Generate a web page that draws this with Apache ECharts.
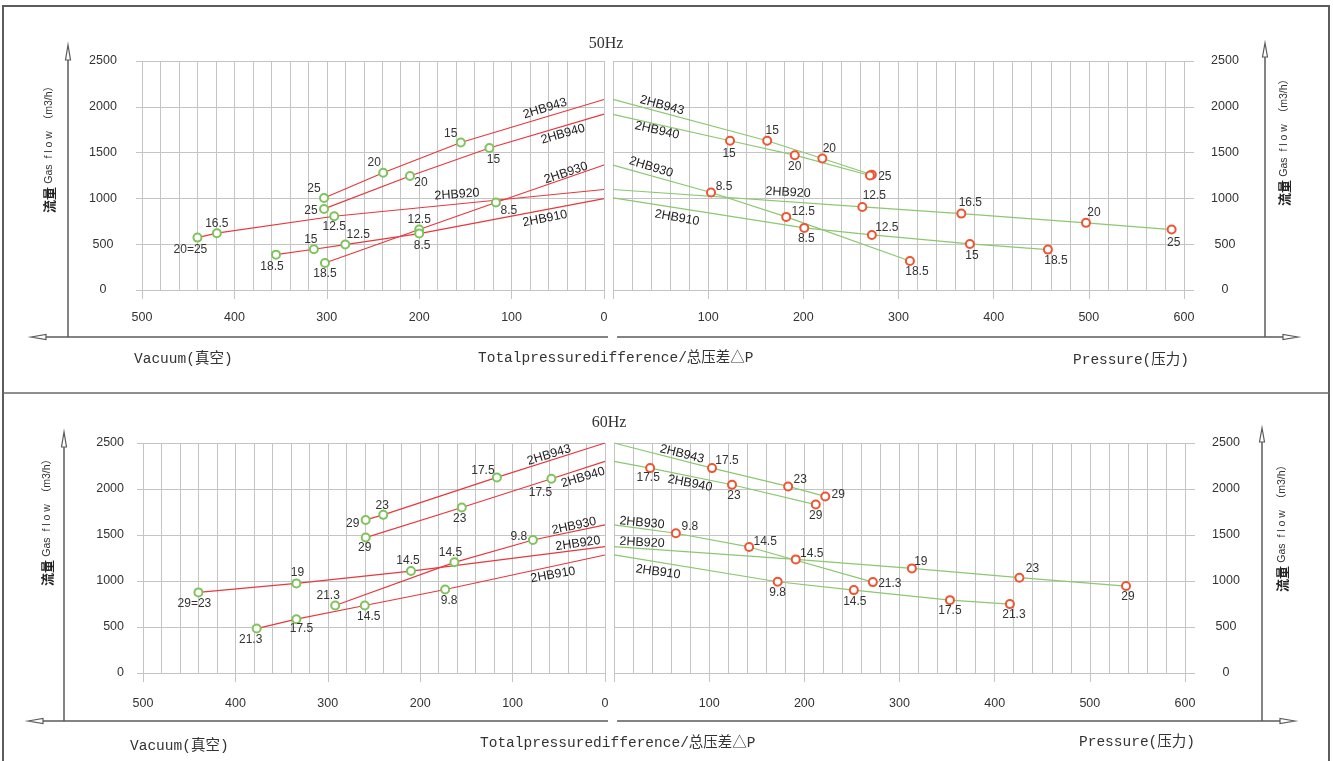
<!DOCTYPE html>
<html><head><meta charset="utf-8">
<script src="https://cdn.jsdelivr.net/npm/echarts@6/dist/echarts.min.js"></script>
<style>html,body{margin:0;padding:0;background:#fff}#c{width:1333px;height:761px}</style>
</head><body><div id="c"></div>
<script>
// ================= DATA =================
const models = ['2HB943', '2HB940', '2HB930', '2HB920', '2HB910'];
const flowTicks = [0, 500, 1000, 1500, 2000, 2500];      // m3/h
const vacuumTicks = [0, 100, 200, 300, 400, 500];        // vacuum side
const pressureTicks = [0, 100, 200, 300, 400, 500, 600]; // pressure side
const minorStep = 20;

// [pressure difference, gas flow, power label]
// 50 Hz – vacuum side
const V50_2HB943 = [[0, 2080, ''], [155, 1610, '15'], [239, 1280, '20'], [303, 1005, '25']];
const V50_2HB940 = [[0, 1920, ''], [124, 1550, '15'], [210, 1245, '20'], [303, 885, '25']];
const V50_2HB930 = [[0, 1365, ''], [117, 955, '8.5'], [200, 660, '12.5'], [302, 295, '18.5']];
const V50_2HB920 = [[0, 1097, ''], [292, 805, '12.5'], [419, 620, '16.5'], [440, 572, '20=25']];
const V50_2HB910 = [[0, 998, ''], [200, 616, '8.5'], [280, 496, '12.5'], [314, 445, '15'], [355, 386, '18.5']];
// 50 Hz – pressure side
const P50_2HB943 = [[0, 2081, ''], [162, 1629, '15'], [220, 1436, '20'], [272, 1258, '25']];
const P50_2HB940 = [[0, 1917, ''], [123, 1629, '15'], [191, 1472, '20'], [270, 1250, '25']];
const P50_2HB930 = [[0, 1363, ''], [103, 1064, '8.5'], [182, 798, '12.5'], [312, 317, '18.5']];
const P50_2HB920 = [[0, 1097, ''], [262, 907, '12.5'], [366, 834, '16.5'], [497, 733, '20'], [587, 660, '25']];
const P50_2HB910 = [[0, 1006, ''], [201, 678, '8.5'], [272, 601, '12.5'], [375, 503, '15'], [457, 441, '18.5']];
// 60 Hz – vacuum side
const V60_2HB943 = [[0, 2500, ''], [117, 2126, '17.5'], [240, 1719, '23'], [259, 1664, '29']];
const V60_2HB940 = [[0, 2300, ''], [58, 2111, '17.5'], [155, 1799, '23'], [259, 1472, '29']];
const V60_2HB930 = [[0, 1610, ''], [78, 1446, '9.8'], [163, 1203, '14.5'], [292, 734, '21.3']];
const V60_2HB920 = [[0, 1374, ''], [210, 1108, '14.5'], [334, 974, '19'], [440, 876, '29=23']];
const V60_2HB910 = [[0, 1283, ''], [173, 908, '9.8'], [260, 734, '14.5'], [334, 585, '17.5'], [377, 483, '21.3']];
// 60 Hz – pressure side
const P60_2HB943 = [[0, 2500, ''], [103, 2227, '17.5'], [183, 2028, '23'], [222, 1919, '29']];
const P60_2HB940 = [[0, 2300, ''], [38, 2227, '17.5'], [124, 2046, '23'], [212, 1831, '29']];
const P60_2HB930 = [[0, 1610, ''], [65, 1519, '9.8'], [142, 1370, '14.5'], [272, 988, '21.3']];
const P60_2HB920 = [[0, 1374, ''], [191, 1235, '14.5'], [313, 1137, '19'], [426, 1036, '23'], [538, 945, '29']];
const P60_2HB910 = [[0, 1283, ''], [172, 992, '9.8'], [252, 901, '14.5'], [353, 792, '17.5'], [416, 749, '21.3']];

// ================= STYLE / LAYOUT =================
const GRID_COLOR = '#c4c4c4';
const AXIS_COLOR = '#5a5a5a';
const TEXT_COLOR = '#333';
const RED = '#e8383d';
const GREEN_MK = '#7fc35c';
const GREEN_LN = '#8cc870';
const ORANGE_MK = '#ee5533';
const SANS = 'Liberation Sans, Arial, sans-serif';
const MONO = "'Liberation Mono', 'Noto Sans CJK SC', monospace";

// label offsets (px) of each point's power label, null = no label
const OFF_V50 = [
  [null, [-10, -9], [-9, -10], [-10, -9]],
  [null, [4, 12], [11, 7], [-13, 2]],
  [null, [13, 8], [0, -10], [0, 11]],
  [null, [0, 10], [0, -10], [-7, 12]],
  [null, [3, 12], [13, -10], [-3, -10], [-4, 12]]
];
const OFF_P50 = [
  [null, [5, -10], [7, -10], [13, 2]],
  [null, [-1, 13], [0, 12], null],
  [null, [13, -6], [17, -5], [7, 11]],
  [null, [12, -11], [9, -11], [8, -10], [2, 13]],
  [null, [2, 11], [15, -7], [2, 12], [8, 11]]
];
const OFF_V60 = [
  [null, [-14, -7], [-1, -9], [-13, 4]],
  [null, [-11, 14], [-2, 11], [-1, 10]],
  [null, [-14, -3], [-4, -10], [-7, -10]],
  [null, [-3, -10], [1, -11], [-4, 11]],
  [null, [4, 11], [4, 11], [5, 10], [-6, 11]]
];
const OFF_P60 = [
  [null, [15, -7], [12, -7], [13, -2]],
  [null, [-2, 10], [2, 11], [0, 11]],
  [null, [14, -7], [16, -5], [17, 2]],
  [null, [16, -6], [9, -7], [13, -9], [2, 11]],
  [null, [0, 11], [1, 12], [0, 11], [4, 11]]
];
// model name label: [dx, dy from curve start (px), rotation deg]
const NAME_V50 = [[-59, 9, 17], [-41, 20, 16], [-38, 8, 19], [-147, 5, 4], [-59, 20, 11]];
const NAME_P50 = [[49, 6, -15], [44, 16, -13], [38, 2, -17], [175, 3, -3], [64, 20, -10]];
const NAME_V60 = [[-56, 12, 17], [-22, 16, 17], [-31, 1, 12], [-27, -3, 8], [-52, 20, 10]];
const NAME_P60 = [[68, 11, -14], [76, 22, -11], [28, -2, -5], [28, -4, -3], [44, 17, -8]];

const panels = [
  { data: [V50_2HB943, V50_2HB940, V50_2HB930, V50_2HB920, V50_2HB910], off: OFF_V50, names: NAME_V50,
    ticks: vacuumTicks, inverse: true, line: RED, mk: GREEN_MK,
    A: { left: 142, top: 61, width: 462, height: 229 }, B: { left: 136, top: 61, width: 468, height: 229 },
    yPos: 'left', yAlign: 'center', yMargin: 33, xMargin: 21, hideZero: false },
  { data: [P50_2HB943, P50_2HB940, P50_2HB930, P50_2HB920, P50_2HB910], off: OFF_P50, names: NAME_P50,
    ticks: pressureTicks, inverse: false, line: GREEN_LN, mk: ORANGE_MK,
    A: { left: 613, top: 61, width: 571, height: 229 }, B: { left: 613, top: 61, width: 581, height: 229 },
    yPos: 'right', yAlign: 'center', yMargin: 31, xMargin: 21, hideZero: true },
  { data: [V60_2HB943, V60_2HB940, V60_2HB930, V60_2HB920, V60_2HB910], off: OFF_V60, names: NAME_V60,
    ticks: vacuumTicks, inverse: true, line: RED, mk: GREEN_MK,
    A: { left: 143, top: 443, width: 462, height: 230 }, B: { left: 137, top: 443, width: 468, height: 230 },
    yPos: 'left', yAlign: 'right', yMargin: 13, xMargin: 24, hideZero: false },
  { data: [P60_2HB943, P60_2HB940, P60_2HB930, P60_2HB920, P60_2HB910], off: OFF_P60, names: NAME_P60,
    ticks: pressureTicks, inverse: false, line: GREEN_LN, mk: ORANGE_MK,
    A: { left: 614, top: 443, width: 571, height: 230 }, B: { left: 614, top: 443, width: 581, height: 230 },
    yPos: 'right', yAlign: 'center', yMargin: 31, xMargin: 24, hideZero: true }
];

// ================= BUILD =================
const grid = [], xAxis = [], yAxis = [], series = [];
const yMin = flowTicks[0], yMax = flowTicks[flowTicks.length - 1], yStep = flowTicks[1] - flowTicks[0];

panels.forEach((p, i) => {
  const xMax = p.ticks[p.ticks.length - 1];
  const xStep = p.ticks[1] - p.ticks[0];
  grid.push(Object.assign({ containLabel: false }, p.A));
  grid.push(Object.assign({ containLabel: false }, p.B));
  // fine vertical grid
  xAxis.push({ type: 'value', gridIndex: 2 * i, min: 0, max: xMax, interval: minorStep, inverse: p.inverse, position: 'bottom',
    axisLine: { show: false, onZero: false }, axisTick: { show: false }, axisLabel: { show: false },
    splitLine: { show: true, lineStyle: { color: GRID_COLOR, width: 1 } } });
  // major ticks & labels
  xAxis.push({ type: 'value', gridIndex: 2 * i, min: 0, max: xMax, interval: xStep, inverse: p.inverse, position: 'bottom',
    axisLine: { show: false, onZero: false },
    axisTick: { show: true, length: 9, lineStyle: { color: GRID_COLOR, width: 1 } },
    axisLabel: { show: true, margin: p.xMargin, color: TEXT_COLOR, fontSize: 12.5, fontFamily: SANS,
      formatter: v => (p.hideZero && v === 0) ? '' : String(v) },
    splitLine: { show: false } });
  // hidden x for wide horizontal grid
  xAxis.push({ type: 'value', gridIndex: 2 * i + 1, min: 0, max: 1, show: false });
  yAxis.push({ type: 'value', gridIndex: 2 * i, min: yMin, max: yMax, interval: yStep, show: false });
  yAxis.push({ type: 'value', gridIndex: 2 * i + 1, min: yMin, max: yMax, interval: yStep, position: p.yPos,
    axisLine: { show: false, onZero: false }, axisTick: { show: false },
    axisLabel: { show: true, margin: p.yMargin, align: p.yAlign, color: TEXT_COLOR, fontSize: 12.5, fontFamily: SANS,
      formatter: v => String(v) },
    splitLine: { show: true, lineStyle: { color: GRID_COLOR, width: 1 } } });

  p.data.forEach((arr, k) => {
    series.push({
      type: 'line', name: models[k], xAxisIndex: 3 * i, yAxisIndex: 2 * i,
      symbol: 'emptyCircle', symbolSize: 8, showAllSymbol: true,
      lineStyle: { color: p.line, width: 1.2 },
      itemStyle: { color: p.mk, borderWidth: 1.2 },
      emphasis: { disabled: true }, z: 3,
      data: arr.map((d, j) => {
        const item = { value: [d[0], d[1]] };
        if (j === 0) item.symbol = 'none';
        const o = p.off[k][j];
        item.label = o ? { show: true, position: 'inside', offset: o, formatter: d[2], color: TEXT_COLOR,
          fontSize: 12, fontFamily: SANS } : { show: false };
        return item;
      })
    });
  });
});

const chart = echarts.init(document.getElementById('c'), null, { renderer: 'canvas' });
chart.setOption({ animation: false, backgroundColor: '#fff', grid, xAxis, yAxis, series });

// ================= DECORATION =================
const g = [];
function ln(x1, y1, x2, y2, w, c) { g.push({ type: 'line', silent: true, z: 1, shape: { x1, y1, x2, y2 }, style: { stroke: c || AXIS_COLOR, lineWidth: w || 1.5 } }); }
function tri(pts) { g.push({ type: 'polygon', silent: true, z: 2, shape: { points: pts }, style: { fill: '#fff', stroke: AXIS_COLOR, lineWidth: 1.2 } }); }
function txt(x, y, text, font, align, extra) {
  g.push(Object.assign({ type: 'text', silent: true, z: 5, x, y,
    style: { text, font, fill: TEXT_COLOR, align: align || 'left', verticalAlign: 'middle' } }, extra || {}));
}
// outer frame and divider
g.push({ type: 'rect', silent: true, z: 0, shape: { x: 3, y: 6, width: 1326, height: 800 }, style: { fill: 'none', stroke: '#5c5c5c', lineWidth: 2 } });
ln(3, 393, 1329, 393, 1.5, '#6a6a6a');

function frame(axL, axR, yBase, topL, topR, tipL, tipR) {
  ln(axL, topL + 15, axL, yBase); tri([[axL, topL], [axL - 2.5, topL + 15], [axL + 2.5, topL + 15]]);
  ln(axR, topR + 14, axR, yBase); tri([[axR, topR], [axR - 2.5, topR + 14], [axR + 2.5, topR + 14]]);
  ln(tipL + 15, yBase, 608, yBase); tri([[tipL, yBase], [tipL + 15, yBase - 2.5], [tipL + 15, yBase + 2.5]]);
  ln(617, yBase, tipR - 15, yBase); tri([[tipR, yBase], [tipR - 15, yBase - 2.5], [tipR - 15, yBase + 2.5]]);
}
frame(68, 1265, 337, 45, 43, 31, 1298);
frame(64, 1262, 721, 432, 428, 28, 1295);

const titleFont = '16px "Liberation Serif", serif';
const lblFont = '14.5px ' + MONO;
txt(606, 44, '50Hz', titleFont, 'center');
txt(609, 423, '60Hz', titleFont, 'center');
txt(134, 359, 'Vacuum(真空)', lblFont);
txt(478, 358, 'Totalpressuredifference/总压差△P', lblFont);
txt(1073, 360, 'Pressure(压力)', lblFont);
txt(130, 746, 'Vacuum(真空)', lblFont);
txt(480, 743, 'Totalpressuredifference/总压差△P', lblFont);
txt(1079, 742, 'Pressure(压力)', lblFont);

function yTitle(x, y) {
  g.push({ type: 'text', silent: true, z: 5, x, y, rotation: Math.PI / 2,
    style: { text: '{a|流量} {b|Gas  f l o w  （m3/h）}', align: 'center', verticalAlign: 'middle', fill: TEXT_COLOR,
      rich: { a: { fontSize: 13, fontWeight: 'bold', fontFamily: 'Noto Sans CJK SC', fill: '#222' },
              b: { fontSize: 10.5, fontFamily: "'Liberation Sans', 'Noto Sans CJK SC'", fill: '#333' } } } });
}
yTitle(49, 147); yTitle(1284, 140); yTitle(47, 520); yTitle(1282, 526);

// model names placed relative to each curve's start point
panels.forEach((p, i) => {
  p.data.forEach((arr, k) => {
    const pt = chart.convertToPixel({ xAxisIndex: 3 * i, yAxisIndex: 2 * i }, [arr[0][0], arr[0][1]]);
    const n = p.names[k];
    g.push({ type: 'text', silent: true, z: 6, x: pt[0] + n[0], y: pt[1] + n[1], rotation: n[2] * Math.PI / 180,
      style: { text: models[k], font: '12.5px ' + SANS, fill: '#222', align: 'center', verticalAlign: 'middle' } });
  });
});
chart.setOption({ graphic: g });
</script></body></html>
